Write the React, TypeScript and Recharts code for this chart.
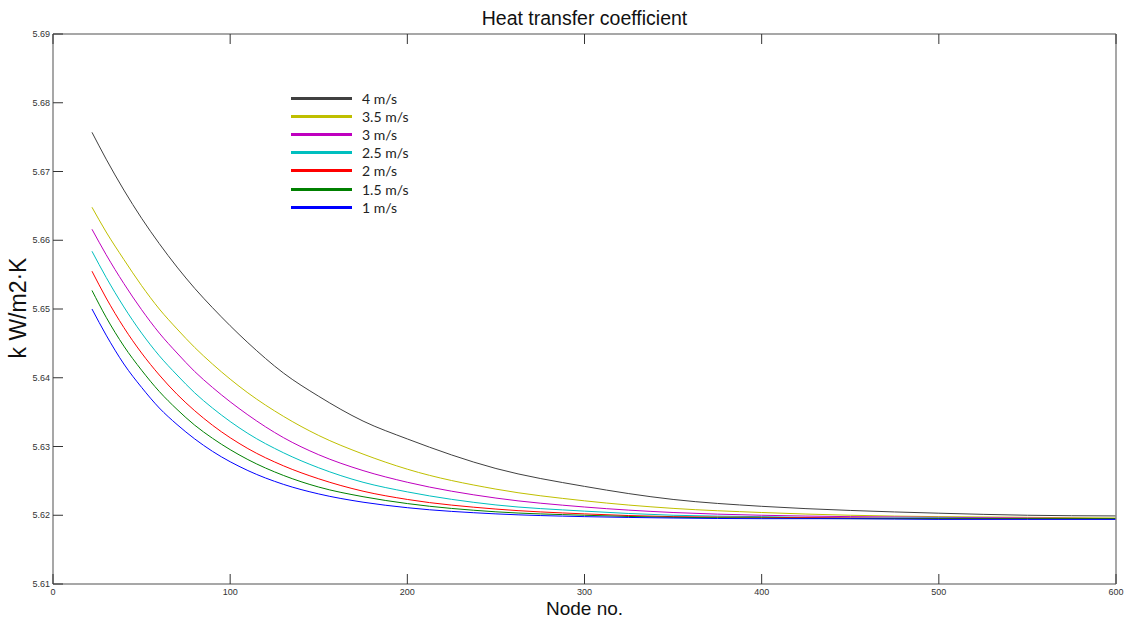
import React from 'react';
import { LineChart, Line, XAxis, YAxis } from 'recharts';

// node positions sampled along the pipe
const nodes = [22, 30, 40, 50, 60, 70, 80, 90, 110, 130, 150, 175, 200, 250, 300, 350, 400, 450, 500, 550, 600];

// heat transfer coefficient per inlet velocity (kW/m2K)
const v4 = [5.6757, 5.6718, 5.6673, 5.6632, 5.6595, 5.6561, 5.6530, 5.6502, 5.6451, 5.6407, 5.6373, 5.6337, 5.6311, 5.6268, 5.6242, 5.6223, 5.6213, 5.6207, 5.6203, 5.62, 5.6199];
const v35 = [5.6648, 5.6612, 5.6572, 5.6534, 5.6500, 5.6471, 5.6444, 5.6420, 5.6378, 5.6344, 5.6316, 5.6289, 5.6267, 5.6238, 5.6221, 5.621, 5.6204, 5.62, 5.6198, 5.6197, 5.6196];
const v3 = [5.6616, 5.6579, 5.6537, 5.6499, 5.6465, 5.6436, 5.6409, 5.6386, 5.6346, 5.6313, 5.6288, 5.6265, 5.6248, 5.6225, 5.6212, 5.6204, 5.62, 5.6198, 5.6197, 5.6196, 5.6195];
const v25 = [5.6584, 5.6546, 5.6503, 5.6465, 5.6432, 5.6404, 5.6378, 5.6356, 5.6319, 5.6291, 5.6269, 5.6248, 5.6234, 5.6215, 5.6206, 5.62, 5.6198, 5.6196, 5.6196, 5.6195, 5.6195];
const v2 = [5.6555, 5.6516, 5.6473, 5.6436, 5.6404, 5.6376, 5.6352, 5.6331, 5.6297, 5.6272, 5.6253, 5.6235, 5.6223, 5.6209, 5.6202, 5.6198, 5.6197, 5.6196, 5.6195, 5.6195, 5.6195];
const v15 = [5.6527, 5.6488, 5.6446, 5.6411, 5.638, 5.6354, 5.6331, 5.6312, 5.6281, 5.6258, 5.6241, 5.6227, 5.6217, 5.6205, 5.62, 5.6197, 5.6196, 5.6195, 5.6195, 5.6195, 5.6195];
const v1 = [5.65, 5.6462, 5.642, 5.6386, 5.6356, 5.6332, 5.6311, 5.6293, 5.6265, 5.6245, 5.6231, 5.6219, 5.6211, 5.6202, 5.6198, 5.6196, 5.6195, 5.6195, 5.6194, 5.6194, 5.6194];

const xTicks = [0, 100, 200, 300, 400, 500, 600];
const yTicks = [5.61, 5.62, 5.63, 5.64, 5.65, 5.66, 5.67, 5.68, 5.69];

const series = [
  { key: 'v4', name: '4 m/s', color: '#404040', values: v4 },
  { key: 'v35', name: '3.5 m/s', color: '#bfbf00', values: v35 },
  { key: 'v3', name: '3 m/s', color: '#bf00bf', values: v3 },
  { key: 'v25', name: '2.5 m/s', color: '#00bfbf', values: v25 },
  { key: 'v2', name: '2 m/s', color: '#ff0000', values: v2 },
  { key: 'v15', name: '1.5 m/s', color: '#008000', values: v15 },
  { key: 'v1', name: '1 m/s', color: '#0000ff', values: v1 },
];

const data = nodes.map((n, i) => {
  const row: Record<string, number> = { node: n };
  series.forEach((s) => {
    row[s.key] = s.values[i];
  });
  return row;
});

const axisColor = '#8a8a8a';
const tickColor = '#333';
const TICK = 10; // inward tick length, matlab style
const tickFontFamily = 'Liberation Sans, Arial, sans-serif';

// ticks are drawn inside the box, so we draw line + label ourselves
const LeftTick = (props: any) => {
  const { x, y, payload } = props;
  return (
    <g>
      <line x1={x + 3} x2={x + 3 + TICK} y1={y} y2={y} stroke={tickColor} strokeWidth={1} />
      <text x={x} y={y} dy="0.35em" textAnchor="end" fontSize={9} fontFamily={tickFontFamily} fill={tickColor}>
        {Number(payload.value).toFixed(2)}
      </text>
    </g>
  );
};

const BottomTick = (props: any) => {
  const { x, y, payload } = props;
  return (
    <g>
      <line x1={x} x2={x} y1={y - 4} y2={y - 4 - TICK} stroke={tickColor} strokeWidth={1} />
      <text x={x} y={y} dy="0.75em" textAnchor="middle" fontSize={9} fontFamily={tickFontFamily} fill={tickColor}>
        {payload.value}
      </text>
    </g>
  );
};

const TopTick = (props: any) => {
  const { x, y } = props;
  return <line x1={x} x2={x} y1={y} y2={y + TICK} stroke={tickColor} strokeWidth={1} />;
};

const RightTick = (props: any) => {
  const { x, y } = props;
  return <line x1={x} x2={x - TICK} y1={y} y2={y} stroke={tickColor} strokeWidth={1} />;
};

export default function App() {
  return (
    <div style={{ position: 'absolute', left: 0, top: 0, width: 1126, height: 619, background: '#fff', fontFamily: 'Liberation Sans, Arial, sans-serif' }}>
      <LineChart width={1126} height={619} data={data} margin={{ top: 24, right: 0, bottom: 5, left: 13 }}>
        <XAxis
          dataKey="node"
          type="number"
          domain={[0, 600]}
          ticks={xTicks}
          height={30}
          stroke={axisColor}
          strokeWidth={1.5}
          tickLine={false}
          tickSize={0}
          tickMargin={4}
          tick={<BottomTick />}
          interval={0}
        />
        <XAxis
          xAxisId="top"
          orientation="top"
          dataKey="node"
          type="number"
          domain={[0, 600]}
          ticks={xTicks}
          height={10}
          stroke={axisColor}
          strokeWidth={1.5}
          tickLine={false}
          tickSize={0}
          tickMargin={0}
          tick={<TopTick />}
          interval={0}
        />
        <YAxis
          type="number"
          domain={[5.61, 5.69]}
          ticks={yTicks}
          width={40}
          stroke={axisColor}
          strokeWidth={1.5}
          tickLine={false}
          tickSize={0}
          tickMargin={3}
          tick={<LeftTick />}
          interval={0}
        />
        <YAxis
          yAxisId="right"
          orientation="right"
          type="number"
          domain={[5.61, 5.69]}
          ticks={yTicks}
          width={10}
          stroke={axisColor}
          strokeWidth={1.5}
          tickLine={false}
          tickSize={0}
          tickMargin={0}
          tick={<RightTick />}
          interval={0}
        />
        {series.map((s) => (
          <Line
            key={s.key}
            dataKey={s.key}
            name={s.name}
            type="monotone"
            stroke={s.color}
            strokeWidth={1}
            dot={false}
            isAnimationActive={false}
          />
        ))}
      </LineChart>

      {/* title and axis labels */}
      <div style={{ position: 'absolute', left: 53, width: 1063, top: 6, textAlign: 'center', fontSize: 19.5, lineHeight: '24px', color: '#111' }}>
        Heat transfer coefficient
      </div>
      <div style={{ position: 'absolute', left: 53, width: 1063, top: 600, textAlign: 'center', fontSize: 19, lineHeight: '18px', color: '#111' }}>
        Node no.
      </div>
      <div
        style={{
          position: 'absolute',
          left: 18,
          top: 308,
          transform: 'translate(-50%, -50%) rotate(-90deg)',
          whiteSpace: 'nowrap',
          fontSize: 23,
          color: '#111',
        }}
      >
        k W/m2·K
      </div>

      {/* legend */}
      <div style={{ position: 'absolute', left: 291, top: 89 }}>
        {series.map((s) => (
          <div key={s.key} style={{ display: 'flex', alignItems: 'center', height: 18.2 }}>
            <div style={{ width: 61, height: 3, background: s.color }} />
            <span style={{ marginLeft: 10, fontFamily: 'Lato, Open Sans, sans-serif', fontSize: 14, color: '#222' }}>{s.name}</span>
          </div>
        ))}
      </div>
    </div>
  );
}
